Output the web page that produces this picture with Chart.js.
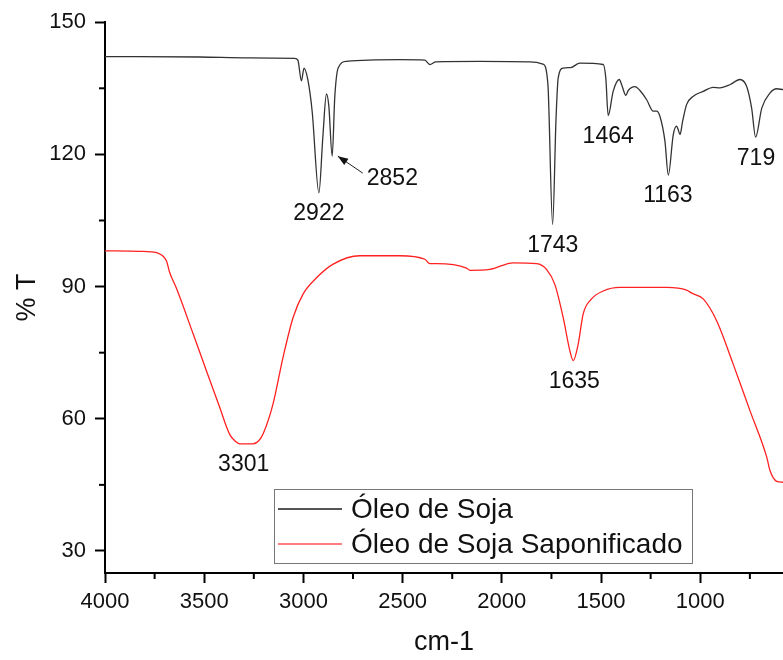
<!DOCTYPE html>
<html>
<head>
<meta charset="utf-8">
<script src="https://cdn.jsdelivr.net/npm/chart.js@4"></script>
<style>
  html, body { margin: 0; padding: 0; background: #fff; }
  #box { width: 783px; height: 660px; }
</style>
</head>
<body>
<div id="box"><canvas id="grafico"></canvas></div>
<script>
// eixo x: numero de onda (cm-1), eixo y: % T
const xTicks = [4000, 3500, 3000, 2500, 2000, 1500, 1000];
const yTicks = [30, 60, 90, 120, 150];

const nomes = ['Óleo de Soja', 'Óleo de Soja Saponificado'];

// Óleo de Soja
const wnSoja = [4000, 3522, 3270, 3044, 3028, 3010, 2997, 2978, 2956, 2922, 2902, 2884, 2872, 2855, 2842, 2825, 2783,
  2514, 2388, 2363, 2333, 2111, 1859, 1793, 1768, 1744, 1727, 1716, 1691, 1653, 1607, 1489, 1476, 1464, 1439,
  1408, 1396, 1375, 1363, 1329, 1304, 1270, 1237, 1220, 1203, 1178, 1161, 1136, 1119, 1111, 1102, 1089, 1069,
  1035, 985, 935, 901, 851, 800, 766, 741, 721, 690, 649, 615, 583];
const tSoja = [142.2, 142.1, 141.9, 141.8, 141.4, 136.7, 139.6, 137.0, 129.8, 111.3, 124.0, 133.7, 131.0, 119.6, 133.0, 139.6, 141.1,
  141.5, 141.4, 140.4, 141.0, 141.1, 141.0, 140.5, 136.0, 104.1, 128.0, 137.3, 139.6, 139.7, 140.7, 140.4, 137.3, 128.8, 134.3,
  137.0, 135.8, 133.4, 134.5, 135.4, 134.5, 132.4, 129.8, 129.8, 128.6, 123.0, 115.3, 124.5, 126.4, 125.6, 124.5, 127.5, 131.3,
  133.2, 134.3, 135.2, 135.1, 135.8, 137.0, 135.4, 130.5, 123.9, 130.5, 133.9, 134.9, 134.7];

// Óleo de Soja Saponificado
const wnSap = [4000, 3825, 3740, 3724, 3707, 3690, 3674, 3640, 3556, 3489, 3422, 3371, 3340, 3321, 3254, 3225, 3203, 3153, 3103, 3052, 3002, 2934,
  2850, 2716, 2514, 2388, 2363, 2329, 2178, 2161, 2061, 1943, 1825, 1775, 1733, 1691, 1657, 1640, 1615, 1590,
  1548, 1489, 1405, 1169, 1069, 1043, 985, 917, 834, 750, 665, 649, 615, 583];
const tSap = [98.1, 98.0, 97.7, 97.4, 96.9, 95.8, 93.2, 89.6, 79.3, 70.9, 62.6, 56.4, 54.8, 54.3, 54.3, 55.0, 56.6, 63.4, 73.9, 83.0, 88.3, 92.0,
  95.1, 97.0, 97.0, 96.2, 95.2, 95.2, 94.2, 93.7, 93.9, 95.4, 95.2, 93.9, 90.5, 83.0, 75.4, 73.2, 77.0, 83.8,
  87.2, 89.0, 89.8, 89.8, 89.2, 88.5, 87.2, 82.2, 72.4, 61.9, 51.3, 48.3, 45.8, 45.6];

// picos marcados
const picosSoja = [2922, 1743, 1464, 1163, 719];
const picosSap = [3301, 1635];
const picoSeta = 2852;

function pontos(xs, ys) {
  return xs.map((x, i) => ({ x: x, y: ys[i] }));
}

function valorPerto(xs, ys, wn) {
  let melhor = 0;
  for (let i = 1; i < xs.length; i++) {
    if (Math.abs(xs[i] - wn) < Math.abs(xs[melhor] - wn)) melhor = i;
  }
  return ys[melhor];
}

const fonte = 'Liberation Sans, Arial, sans-serif';

const extras = {
  id: 'extras',
  afterDraw(chart) {
    const ctx = chart.ctx;
    const sx = chart.scales.x;
    const sy = chart.scales.y;
    const area = chart.chartArea;
    ctx.save();

    // ticks menores
    ctx.strokeStyle = '#000';
    ctx.lineWidth = 2;
    for (let i = 0; i < xTicks.length; i++) {
      const v = xTicks[i] - 250;
      if (v < sx.min) continue;
      const px = sx.getPixelForValue(v);
      ctx.beginPath();
      ctx.moveTo(px, area.bottom);
      ctx.lineTo(px, area.bottom + 6);
      ctx.stroke();
    }
    for (let i = 0; i < yTicks.length; i++) {
      const v = yTicks[i] + 15;
      if (v > sy.max) continue;
      const py = sy.getPixelForValue(v);
      ctx.beginPath();
      ctx.moveTo(area.left, py);
      ctx.lineTo(area.left - 6, py);
      ctx.stroke();
    }

    // rotulos dos picos
    ctx.fillStyle = '#111';
    ctx.font = '23px ' + fonte;
    ctx.textAlign = 'center';
    ctx.textBaseline = 'middle';
    picosSoja.forEach(wn => {
      const v = valorPerto(wnSoja, tSoja, wn);
      ctx.fillText(String(wn), sx.getPixelForValue(wn), sy.getPixelForValue(v) + 21);
    });
    picosSap.forEach(wn => {
      const v = valorPerto(wnSap, tSap, wn);
      ctx.fillText(String(wn), sx.getPixelForValue(wn), sy.getPixelForValue(v) + 21);
    });

    // seta do 2852
    const vSeta = valorPerto(wnSoja, tSoja, picoSeta);
    const tipX = sx.getPixelForValue(picoSeta) + 5;
    const tipY = sy.getPixelForValue(vSeta);
    const tailX = tipX + 25, tailY = tipY + 17;
    const ang = Math.atan2(tipY - tailY, tipX - tailX);
    ctx.strokeStyle = '#222';
    ctx.lineWidth = 1;
    ctx.beginPath();
    ctx.moveTo(tailX, tailY);
    ctx.lineTo(tipX, tipY);
    ctx.stroke();
    ctx.fillStyle = '#111';
    ctx.beginPath();
    ctx.moveTo(tipX, tipY);
    ctx.lineTo(tipX - 11 * Math.cos(ang - 0.35), tipY - 11 * Math.sin(ang - 0.35));
    ctx.lineTo(tipX - 11 * Math.cos(ang + 0.35), tipY - 11 * Math.sin(ang + 0.35));
    ctx.closePath();
    ctx.fill();
    ctx.textAlign = 'left';
    ctx.fillText(String(picoSeta), tailX + 4, tailY + 6);

    // legenda
    const lx = 274.5, ly = 489.5, lw = 418, lh = 74;
    ctx.fillStyle = '#fff';
    ctx.fillRect(lx, ly, lw, lh);
    ctx.strokeStyle = '#777';
    ctx.lineWidth = 1;
    ctx.strokeRect(lx, ly, lw, lh);
    const cores = ['#555', '#ff5555'];
    const larg = [2, 1.5];
    ctx.font = '28px ' + fonte;
    ctx.textBaseline = 'middle';
    nomes.forEach((n, i) => {
      const y = 509 + i * 35;
      ctx.strokeStyle = cores[i];
      ctx.lineWidth = larg[i];
      ctx.beginPath();
      ctx.moveTo(278, y);
      ctx.lineTo(342, y);
      ctx.stroke();
      ctx.fillStyle = '#111';
      ctx.fillText(n, 351, y + 1);
    });
    ctx.restore();
  }
};

const ctx = document.getElementById('grafico').getContext('2d');

new Chart(ctx, {
  type: 'scatter',
  data: {
    datasets: [{
      label: nomes[0],
      data: pontos(wnSoja, tSoja),
      showLine: true,
      borderColor: '#333',
      borderWidth: 1.3,
      pointRadius: 0,
      cubicInterpolationMode: 'monotone'
    }, {
      label: nomes[1],
      data: pontos(wnSap, tSap),
      showLine: true,
      borderColor: '#ff2020',
      borderWidth: 1.3,
      pointRadius: 0,
      cubicInterpolationMode: 'monotone'
    }]
  },
  options: {
    responsive: true,
    maintainAspectRatio: false,
    animation: false,
    layout: { padding: { top: 21, left: 0, right: 0, bottom: 0 } },
    plugins: {
      legend: { display: false },
      tooltip: { enabled: false }
    },
    scales: {
      x: {
        type: 'linear',
        reverse: true,
        min: 583,
        max: 4000,
        afterFit: s => { s.height = 87; },
        afterBuildTicks: s => { s.ticks = xTicks.map(v => ({ value: v })); },
        grid: { display: true, drawOnChartArea: false, drawTicks: true, tickLength: 10, tickWidth: 2, tickColor: '#000' },
        border: { display: true, color: '#000', width: 2 },
        ticks: { color: '#111', font: { family: fonte, size: 22 }, padding: 6, maxRotation: 0, autoSkip: false,
          callback: v => String(v) },
        title: { display: true, text: 'cm-1', color: '#111', font: { family: fonte, size: 27 }, padding: { top: 0, bottom: 1 } }
      },
      y: {
        min: 25,
        max: 150,
        afterFit: s => { s.width = 105; },
        afterBuildTicks: s => { s.ticks = yTicks.map(v => ({ value: v })); },
        grid: { display: true, drawOnChartArea: false, drawTicks: true, tickLength: 10, tickWidth: 2, tickColor: '#000' },
        border: { display: true, color: '#000', width: 2 },
        ticks: { color: '#111', font: { family: fonte, size: 22 }, padding: 9, callback: v => String(v) },
        title: { display: true, text: '% T', color: '#111', font: { family: fonte, size: 27 }, padding: { top: 11, bottom: 0 } }
      }
    }
  },
  plugins: [extras]
});
</script>
</body>
</html>
